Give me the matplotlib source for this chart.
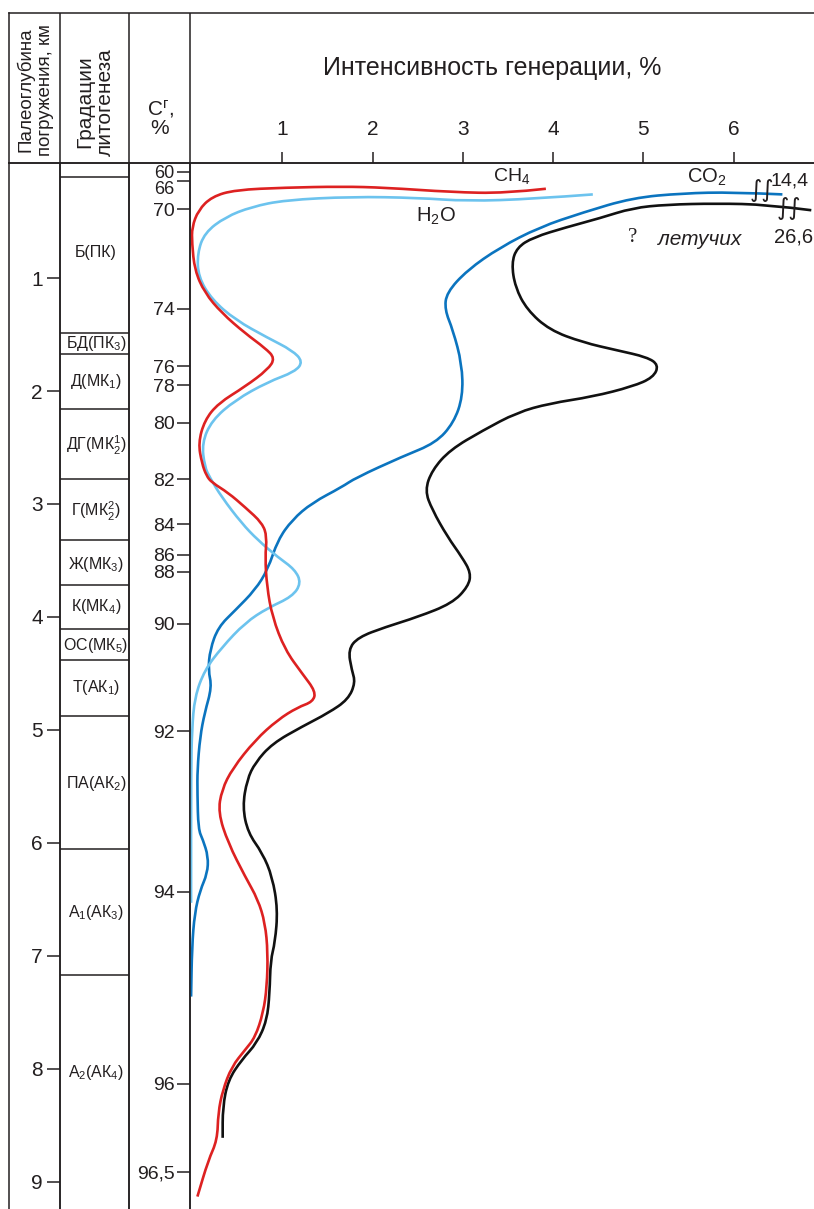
#Profile of gas generation intensity vs. paleodepth (CH4, H2O, CO2, volatiles).
#Writes out.png only.

import matplotlib
matplotlib.use("Agg")
import matplotlib.pyplot as plt
from matplotlib.path import Path
from matplotlib.patches import PathPatch
from matplotlib.transforms import blended_transform_factory

plt.rcParams['font.family'] = ['Liberation Sans', 'DejaVu Sans']
plt.rcParams['mathtext.fontset'] = 'custom'
plt.rcParams['mathtext.rm'] = 'Liberation Sans'
plt.rcParams['mathtext.it'] = 'Liberation Sans:italic'
plt.rcParams['mathtext.default'] = 'regular'

# depth scale (km) and C^r scale
km_ticks = [1, 2, 3, 4, 5, 6, 7, 8, 9]
cr_labels = ['60', '66', '70', '74', '76', '78', '80', '82', '84', '86', '88', '90', '92', '94', '96', '96,5']
cr_depth = [0.06, 0.14, 0.39, 1.27, 1.78, 1.95, 2.28, 2.78, 3.18, 3.45, 3.60, 4.06, 5.01, 6.43, 8.13, 8.91]

# lithogenesis gradations
grad_bounds = [0.11, 1.49, 1.67, 2.16, 2.78, 3.32, 3.72, 4.11, 4.38, 4.88, 6.05, 7.17]
grad_labels = ['Б(ПК)', 'БД(ПК$_3$)', 'Д(МК$_1$)', 'ДГ(МК$^1_2$)', 'Г(МК$^2_2$)', 'Ж(МК$_3$)',
               'К(МК$_4$)', 'ОС(МК$_5$)', 'Т(АК$_1$)', 'ПА(АК$_2$)', 'А$_1$(АК$_3$)', 'А$_2$(АК$_4$)']
grad_label_depth = [0.77, 1.58, 1.92, 2.48, 3.07, 3.54, 3.91, 4.25, 4.62, 5.47, 6.62, 8.03]

# CH4 (intensity %, depth km)
ch4_x = [3.92, 3.47, 2.88, 2.14, 1.66, 1.03, 0.48, 0.22, 0.07, 0.0, 0.0, 0.03, 0.14, 0.33, 0.59, 0.81,
         0.92, 0.84, 0.59, 0.29, 0.14, 0.07, 0.11, 0.16, 0.22, 0.40, 0.59, 0.78, 0.83, 0.81, 0.83, 0.89,
         1.03, 1.22, 1.37, 1.34, 1.17, 0.95, 0.70, 0.45, 0.33, 0.29, 0.40, 0.59, 0.73, 0.81, 0.84, 0.83,
         0.79, 0.70, 0.59, 0.44, 0.34, 0.29, 0.28, 0.18, 0.06]
ch4_d = [0.21, 0.25, 0.24, 0.20, 0.19, 0.20, 0.22, 0.28, 0.40, 0.55, 0.69, 0.93, 1.13, 1.31, 1.49, 1.62,
         1.71, 1.81, 1.96, 2.11, 2.26, 2.46, 2.64, 2.75, 2.81, 2.90, 3.03, 3.17, 3.29, 3.47, 3.73, 4.00,
         4.29, 4.50, 4.66, 4.75, 4.80, 4.91, 5.09, 5.34, 5.53, 5.73, 6.00, 6.30, 6.50, 6.71, 6.97, 7.27,
         7.50, 7.72, 7.83, 7.98, 8.19, 8.39, 8.63, 8.81, 9.13]

# H2O
h2o_x = [4.44, 3.78, 3.05, 2.50, 1.77, 1.03, 0.66, 0.37, 0.14, 0.06, 0.07, 0.22, 0.48, 0.84, 1.11, 1.23,
         1.14, 0.84, 0.48, 0.22, 0.11, 0.14, 0.20, 0.33, 0.55, 0.73, 0.95, 1.14, 1.21, 1.11, 0.84, 0.59,
         0.33, 0.14, 0.03, 0.0, -0.01, -0.01]
h2o_d = [0.26, 0.30, 0.32, 0.29, 0.28, 0.31, 0.37, 0.46, 0.60, 0.78, 0.99, 1.19, 1.37, 1.53, 1.64, 1.74,
         1.83, 1.92, 2.08, 2.26, 2.46, 2.67, 2.77, 2.94, 3.17, 3.32, 3.47, 3.58, 3.70, 3.82, 3.92, 4.05,
         4.27, 4.47, 4.71, 5.00, 5.35, 6.53]

# CO2
co2_x = [6.54, 5.99, 5.44, 4.88, 4.33, 3.85, 3.41, 3.05, 2.82, 2.80, 2.89, 2.99, 3.00, 2.90, 2.70, 2.33,
         1.81, 1.66, 1.33, 1.11, 0.95, 0.84, 0.70, 0.48, 0.29, 0.20, 0.18, 0.22, 0.14, 0.09, 0.06, 0.06,
         0.07, 0.12, 0.18, 0.17, 0.09, 0.03, 0.0, -0.01]
co2_d = [0.26, 0.24, 0.25, 0.29, 0.42, 0.55, 0.73, 0.93, 1.13, 1.28, 1.46, 1.76, 2.05, 2.28, 2.46, 2.58,
         2.77, 2.85, 2.99, 3.14, 3.32, 3.58, 3.76, 3.94, 4.09, 4.29, 4.47, 4.62, 4.85, 5.06, 5.35, 5.56,
         5.88, 5.97, 6.12, 6.27, 6.42, 6.62, 6.92, 7.36]

# total volatiles
vol_x = [6.86, 6.37, 5.81, 5.26, 4.88, 4.52, 4.15, 3.78, 3.60, 3.54, 3.58, 3.71, 3.96, 4.33, 4.71, 5.04,
         5.17, 5.11, 4.88, 4.44, 3.96, 3.60, 3.22, 2.86, 2.66, 2.58, 2.66, 2.83, 2.99, 3.09, 3.06, 2.88,
         2.50, 2.14, 1.84, 1.73, 1.77, 1.81, 1.73, 1.51, 1.22, 0.89, 0.70, 0.61, 0.56, 0.62, 0.78, 0.89,
         0.95, 0.92, 0.87, 0.86, 0.83, 0.72, 0.55, 0.40, 0.34, 0.34]
vol_d = [0.40, 0.35, 0.34, 0.35, 0.38, 0.47, 0.55, 0.64, 0.73, 0.87, 1.08, 1.28, 1.46, 1.57, 1.64, 1.70,
         1.77, 1.88, 1.96, 2.05, 2.11, 2.19, 2.35, 2.52, 2.70, 2.88, 3.05, 3.29, 3.47, 3.61, 3.73, 3.88,
         4.00, 4.09, 4.18, 4.29, 4.47, 4.58, 4.73, 4.85, 4.97, 5.12, 5.29, 5.44, 5.68, 5.91, 6.09, 6.30,
         6.59, 6.88, 7.04, 7.33, 7.57, 7.77, 7.92, 8.10, 8.34, 8.61]

W, H = 814, 1209
top_px, header_px = 13, 163
ylim = (9.24, -0.018)
lw_frame = 1.1
col = '#231f20'


def box(x0, x1, y0=header_px, y1=H):
    return [x0 / W, 1 - y1 / H, (x1 - x0) / W, (y1 - y0) / H]


def smooth_curve(ax, xs, ys, color):
    # quadratic bezier through the midpoints, read points act as control points
    verts = [(xs[0], ys[0])]
    codes = [Path.MOVETO]
    for i in range(1, len(xs) - 1):
        verts += [(xs[i], ys[i]), ((xs[i] + xs[i + 1]) / 2, (ys[i] + ys[i + 1]) / 2)]
        codes += [Path.CURVE3, Path.CURVE3]
    verts.append((xs[-1], ys[-1]))
    codes.append(Path.LINETO)
    ax.add_patch(PathPatch(Path(verts, codes), fill=False, edgecolor=color, lw=1.9,
                           capstyle='butt', joinstyle='round'))


fig = plt.figure(figsize=(W / 100, H / 100), dpi=100)

ax_head = fig.add_axes(box(9, 814, top_px, header_px))
ax_km = fig.add_axes(box(9, 60))
ax_gr = fig.add_axes(box(60, 129))
ax_cr = fig.add_axes(box(129, 190))
ax = fig.add_axes(box(190, 814))

for a in (ax_km, ax_gr, ax_cr, ax, ax_head):
    a.set_ylim(*ylim)
    a.set_facecolor('none')
    for s in a.spines.values():
        s.set_linewidth(lw_frame)
        s.set_color(col)
    a.spines['bottom'].set_visible(False)
    a.set_xticks([])
    a.set_yticks([])
ax.spines['right'].set_visible(False)

ax_head.set_xlim(9, 814)
ax_head.set_ylim(0, 1)
ax_head.spines['right'].set_visible(False)
ax_head.spines['bottom'].set_visible(True)
for xv in (60, 129, 190):
    ax_head.axvline(xv, color=col, lw=lw_frame)

# km ticks on the left side of the gradation column
ax_gr.set_yticks(km_ticks, labels=[str(k) for k in km_ticks])
ax_gr.tick_params(axis='y', direction='out', length=9.5, width=lw_frame, pad=3,
                  labelsize=15, colors=col)
ax_gr.set_xlim(0, 1)
for b in grad_bounds:
    ax_gr.axhline(b, color=col, lw=lw_frame)
for lab, dd in zip(grad_labels, grad_label_depth):
    ax_gr.text(0.52, dd, lab, ha='center', va='center', fontsize=11.5, color=col)

# C^r scale on the main axis
ax.set_xlim(-0.022, 6.89)
ax.set_yticks(cr_depth, labels=cr_labels)
ax.tick_params(axis='y', direction='out', length=9.5, width=lw_frame, pad=1.5,
               labelsize=14, colors=col)
ylabs = ax.get_yticklabels()
ylabs[0].set_fontsize(13)
ylabs[1].set_fontsize(13)
ylabs[1].set_va('top')
ax.xaxis.set_ticks_position('top')
ax.set_xticks([1, 2, 3, 4, 5, 6])
ax.tick_params(axis='x', direction='out', length=8, width=lw_frame, pad=9,
               labelsize=15, colors=col)

smooth_curve(ax, co2_x, co2_d, '#0b74bf')
smooth_curve(ax, vol_x, vol_d, '#111111')
smooth_curve(ax, h2o_x, h2o_d, '#6cc3ee')
smooth_curve(ax, ch4_x, ch4_d, '#dd2121')

# labels of the curves
ax.text(3.54, 0.10, 'CH$_4$', ha='center', va='center', fontsize=14, color=col)
ax.text(2.70, 0.45, 'H$_2$O', ha='center', va='center', fontsize=14.5, color=col)
ax.text(5.70, 0.11, 'CO$_2$', ha='center', va='center', fontsize=14.5, color=col)
ax.text(6.62, 0.14, '14,4', ha='center', va='center', fontsize=14, color=col)
ax.text(6.66, 0.64, '26,6', ha='center', va='center', fontsize=14.5, color=col)
ax.text(4.88, 0.64, '?', ha='center', va='center', fontsize=15, color=col,
        family=['Liberation Serif', 'DejaVu Serif'])
ax.text(5.62, 0.66, 'летучих', ha='center', va='center', fontsize=15, color=col, style='italic')
# break marks on the CO2 and volatiles curves
ax.text(6.31, 0.22, '∫∫', ha='center', va='center', fontsize=17, color=col,
        family=['DejaVu Sans'])
ax.text(6.61, 0.38, '∫∫', ha='center', va='center', fontsize=17, color=col,
        family=['DejaVu Sans'])

tr = blended_transform_factory(ax.transData, ax.transAxes)
ax.text(3.33, 1 + 95 / 1046, 'Интенсивность генерации, %', transform=tr,
        ha='center', va='center', fontsize=18, color=col)

# column headers
ax_head.text(35, 0.05, 'Палеоглубина\nпогружения, км', rotation=90, ha='center', va='bottom',
             fontsize=13.5, color=col, linespacing=1.15)
ax_head.text(95, 0.05, 'Градации\nлитогенеза', rotation=90, ha='center', va='bottom',
             fontsize=15, color=col, linespacing=1.1)
ax_head.text(160, 0.3, 'С$^г$,\n%', ha='center', va='center', fontsize=15, color=col,
             linespacing=1.0)

fig.savefig('out.png', dpi=100)
